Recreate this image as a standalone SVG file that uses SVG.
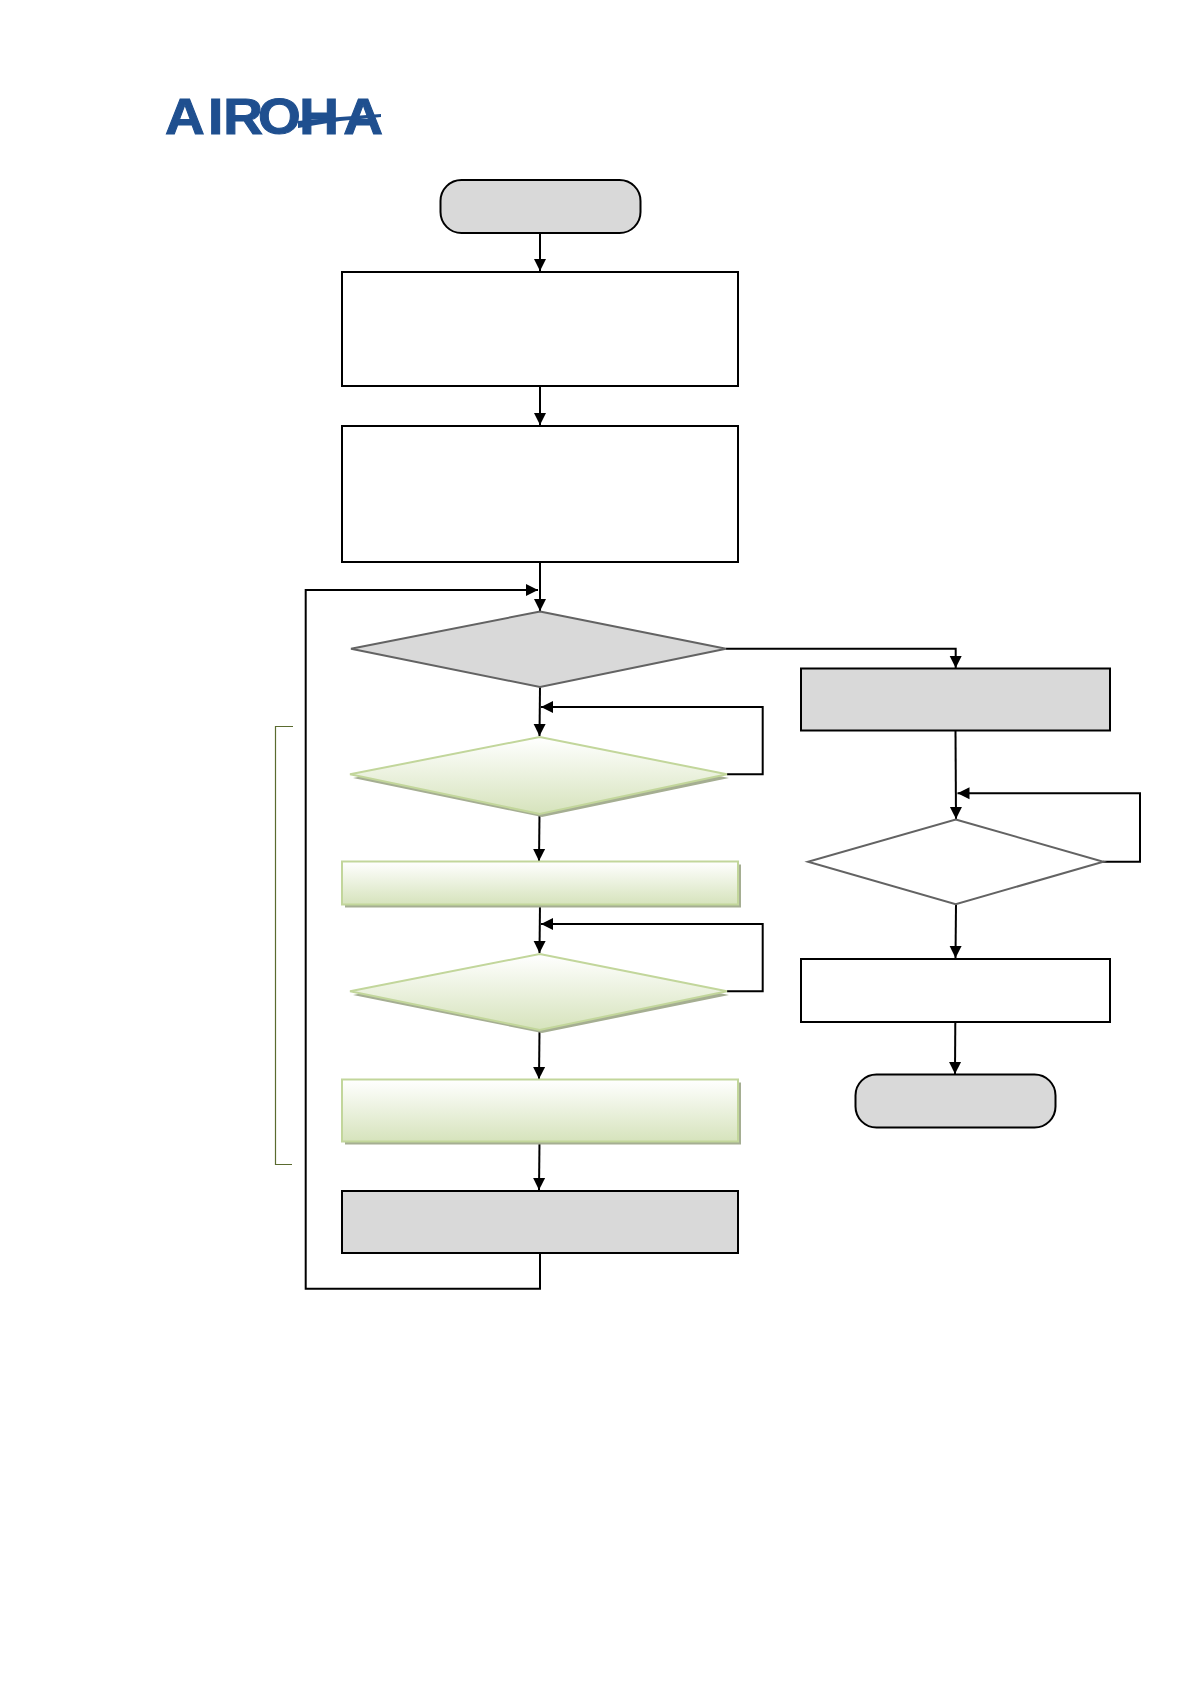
<svg xmlns="http://www.w3.org/2000/svg" width="1190" height="1684" viewBox="0 0 1190 1684">
<style>
.box{stroke:#000;stroke-width:2}
.white{fill:#fff}
.gray{fill:#d9d9d9}
.dia{stroke:#636363;stroke-width:2}
.grn{fill:url(#green);stroke:#c2d69b;stroke-width:2}
.shadow{fill:#a5ae92}
.link{fill:none;stroke:#000;stroke-width:2;marker-end:url(#arrow)}
.logo{font-family:"Liberation Sans",Arial,sans-serif;font-weight:700;font-size:50px;fill:#1f4f8f;stroke:#1f4f8f;stroke-width:1}
</style>
<defs>
<linearGradient id="green" x1="0" y1="0" x2="0" y2="1"><stop offset="0" stop-color="#fff"/><stop offset="1" stop-color="#d6e3bc"/></linearGradient>
<marker id="arrow" markerUnits="userSpaceOnUse" markerWidth="13" markerHeight="14" refX="12" refY="6.500" orient="auto"><path d="M0,0.500 L12,6.500 L0,12.500 Z" fill="#000"/></marker>
</defs>
<rect width="1190" height="1684" fill="#fff"/>
<g id="logo">
<text class="logo" transform="scale(1.1 1)" x="150 189 203 234.500 272 312" y="134">AIROHA</text>
<path d="M298,121 L340,117 L381,114 L381,117 L340,121 L298,128 Z" fill="#1f4f8f"/>
</g>
<g id="connectors">
<path class="link" d="M540,233 V271"/>
<path class="link" d="M540,386 V425"/>
<path class="link" d="M540,562 V611"/>
<path class="link" d="M540,1252.700 V1288.700 H305.700 V590 H538"/>
<path class="link" d="M540,687 L539.500,736"/>
<path class="link" d="M727,774.300 H762.700 V707 H541"/>
<path class="link" d="M539.500,814 L539,861"/>
<path class="link" d="M540,904 L539.500,953"/>
<path class="link" d="M727,991.300 H762.700 V924 H541"/>
<path class="link" d="M539.500,1030 L539,1079"/>
<path class="link" d="M539.500,1141 L539,1190"/>
<path class="link" d="M726,648.800 H955.700 V668"/>
<path class="link" d="M955.500,731 L956,819"/>
<path class="link" d="M1103,861.700 H1140 V793.300 H957.500"/>
<path class="link" d="M956,904 L955.500,958"/>
<path class="link" d="M955.300,1022 L955,1074"/>
</g>
<g id="start"><rect class="box gray" x="440.500" y="180" width="200" height="53" rx="21"/></g>
<g id="step1"><rect class="box white" x="342" y="272" width="396" height="114"/></g>
<g id="step2"><rect class="box white" x="342" y="426" width="396" height="136"/></g>
<g id="decision1"><polygon class="dia gray" points="540,611.500 726,648.800 540,687 351,648.800"/></g>
<g id="check1">
<polygon class="shadow" points="542,740 729,778 542,817 353,778"/>
<polygon class="grn" points="539.700,737 727,774.300 539.700,814 350,774.300"/>
</g>
<g id="action1">
<rect class="shadow" x="345" y="864.500" width="396" height="43"/>
<rect class="grn" x="342" y="861.500" width="396" height="43"/>
</g>
<g id="check2">
<polygon class="shadow" points="542,957 729,995 542,1033 353,995"/>
<polygon class="grn" points="539.700,954 727,991.300 539.700,1030 350,991.300"/>
</g>
<g id="action2">
<rect class="shadow" x="345" y="1082.500" width="396" height="62"/>
<rect class="grn" x="342" y="1079.500" width="396" height="62"/>
</g>
<g id="step3"><rect class="box gray" x="342" y="1191" width="396" height="62"/></g>
<g id="step4"><rect class="box gray" x="801" y="668.500" width="309" height="62"/></g>
<g id="decision2"><polygon class="dia white" points="955.700,819.500 1103.300,861.700 955.700,904.300 808,861.700"/></g>
<g id="step5"><rect class="box white" x="801" y="959" width="309" height="63"/></g>
<g id="end"><rect class="box gray" x="855.500" y="1074.500" width="200" height="53" rx="21"/></g>
<g id="bracket"><path d="M293,726.500 H275.500 V1164.500 H292" fill="none" stroke="#5a6b2f" stroke-width="1.200"/></g>
</svg>
